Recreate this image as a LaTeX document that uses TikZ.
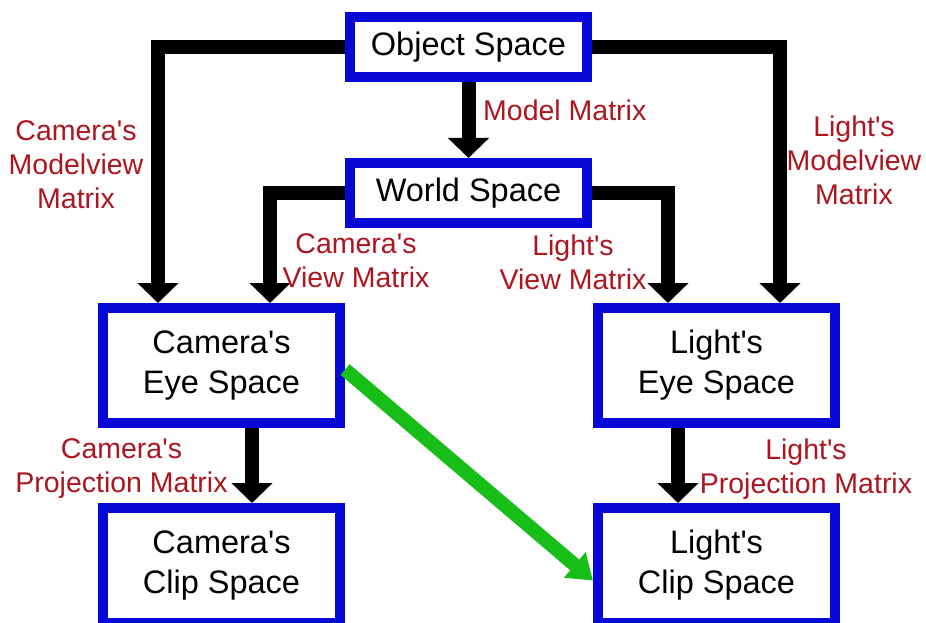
\documentclass[tikz,border=0pt]{standalone}
\usepackage{fontspec}
% keep the apostrophe straight
\setmainfont{Liberation Sans}[Ligatures=TeXOff]
\usetikzlibrary{arrows.meta}
\definecolor{boxblue}{RGB}{8,8,214}
\definecolor{labelred}{RGB}{172,22,30}
\definecolor{arrowgreen}{RGB}{24,190,24}
\begin{document}
\begin{tikzpicture}[x=1pt,y=-1pt,
  spacebox/.style={draw=boxblue, line width=10pt, fill=white,
    minimum width=237pt, align=center, inner sep=0pt,
    font=\fontsize{32.5}{40}\selectfont},
  flatbox/.style={spacebox, minimum height=60pt},
  tallbox/.style={spacebox, minimum height=115pt},
  matlabel/.style={text=labelred, align=center, inner sep=0pt,
    font=\fontsize{28.5}{34}\selectfont},
  conn/.style={line width=14pt, line join=miter,
    -{Triangle[width=40pt,length=20pt]}},
  shadowlink/.style={draw=arrowgreen, line width=14pt,
    -{Triangle[width=32pt,length=24pt]}}]

\useasboundingbox[fill=white] (0,0) rectangle (926,623);

% spaces
\node[flatbox] (obj) at (468.5,47)  {Object Space};
\node[flatbox] (wld) at (468.5,193) {World Space};
\node[tallbox] (ce)  at (221.5,365.5) {Camera's\\Eye Space};
\node[tallbox] (le)  at (716.5,365.5) {Light's\\Eye Space};
\node[tallbox] (cc)  at (221.5,565.5) {Camera's\\Clip Space};
\node[tallbox] (lc)  at (716.5,565.5) {Light's\\Clip Space};

% transforms
\draw[conn] (obj.south) -- (wld.north);
\draw[conn] (obj.west) -| ([xshift=60pt]ce.north west);
\draw[conn] (wld.west) -| ([xshift=172pt]ce.north west);
\draw[conn] (wld.east) -| ([xshift=75pt]le.north west);
\draw[conn] (obj.east) -| ([xshift=187pt]le.north west);
\draw[conn] ([xshift=154pt]ce.south west) -- ([xshift=154pt]cc.north west);
\draw[conn] ([xshift=85pt]le.south west) -- ([xshift=85pt]lc.north west);

% eye space to light clip space
\draw[shadowlink] ([yshift=-4pt]ce.east) -- ([yshift=-15pt]lc.west);

% matrix labels
\node[matlabel, anchor=west] (lmodel) at (483,110) {Model Matrix};
\node[matlabel] (lcmv) at (76,165) {Camera's\\Modelview\\Matrix};
\node[matlabel] (llmv) at (854,160) {Light's\\Modelview\\Matrix};
\node[matlabel] (lcv)  at (356,261) {Camera's\\View Matrix};
\node[matlabel] (llv)  at (573,262) {Light's\\View Matrix};
\node[matlabel] (lcp)  at (121.5,469) {Camera's\\Projection Matrix};
\node[matlabel] (llp)  at (806,469) {Light's\\Projection Matrix};
\end{tikzpicture}
\end{document}
